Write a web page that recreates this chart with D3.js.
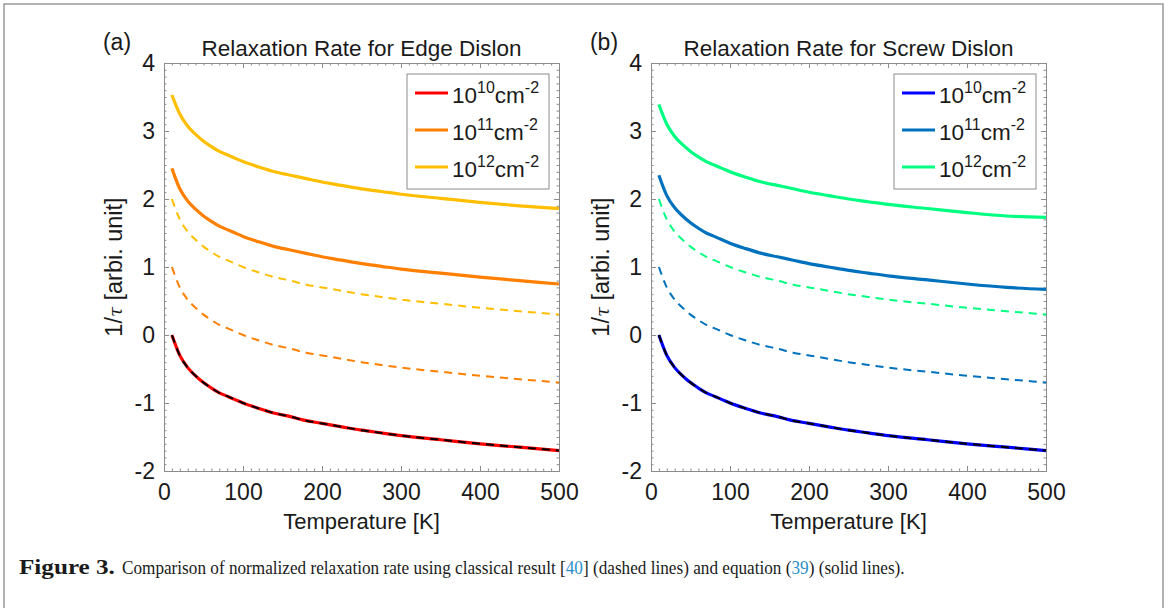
<!DOCTYPE html>
<html>
<head>
<meta charset="utf-8">
<script src="https://cdn.jsdelivr.net/npm/d3@7"></script>
<style>
  body { margin: 0; background: #fff; }
  svg { display: block; font-family: "Liberation Sans", Arial, sans-serif; }
</style>
</head>
<body>
<div id="fig"></div>
<script>
// temperatures (K) at which the curves were read
const temps = [10,20,30,40,50,60,70,80,90,100,120,140,160,180,200,225,250,275,300,350,400,450,500];

// classical result (dashed) - same for both panels
const classic10 = [0,-0.30,-0.48,-0.60,-0.70,-0.78,-0.85,-0.90,-0.95,-1.00,-1.08,-1.15,-1.20,-1.26,-1.30,-1.35,-1.40,-1.44,-1.48,-1.54,-1.60,-1.65,-1.70];
const classic11 = [1.00,0.70,0.52,0.40,0.30,0.22,0.15,0.10,0.05,0.00,-0.08,-0.15,-0.20,-0.26,-0.30,-0.35,-0.40,-0.44,-0.48,-0.54,-0.60,-0.65,-0.70];
const classic12 = [2.00,1.70,1.52,1.40,1.30,1.22,1.15,1.10,1.05,1.00,0.92,0.85,0.80,0.74,0.70,0.65,0.60,0.56,0.52,0.46,0.40,0.35,0.30];

// equation (39) (solid) - edge dislocation
const edge10 = [0,-0.30,-0.48,-0.60,-0.70,-0.78,-0.85,-0.90,-0.95,-1.00,-1.08,-1.15,-1.20,-1.26,-1.30,-1.35,-1.40,-1.44,-1.48,-1.54,-1.60,-1.65,-1.70];
const edge11 = [2.45,2.15,1.97,1.85,1.75,1.67,1.60,1.55,1.50,1.45,1.37,1.30,1.25,1.20,1.15,1.10,1.05,1.01,0.97,0.91,0.85,0.80,0.75];
const edge12 = [3.53,3.25,3.07,2.95,2.85,2.77,2.70,2.65,2.60,2.55,2.47,2.40,2.35,2.30,2.25,2.20,2.15,2.11,2.07,2.01,1.95,1.90,1.86];

// equation (39) (solid) - screw dislocation
const screw10 = [0,-0.30,-0.48,-0.60,-0.70,-0.78,-0.85,-0.90,-0.95,-1.00,-1.08,-1.15,-1.20,-1.26,-1.30,-1.35,-1.40,-1.44,-1.48,-1.54,-1.60,-1.65,-1.70];
const screw11 = [2.35,2.05,1.87,1.75,1.65,1.57,1.50,1.45,1.40,1.35,1.27,1.20,1.15,1.10,1.05,1.00,0.95,0.91,0.87,0.81,0.75,0.70,0.67];
const screw12 = [3.39,3.10,2.92,2.80,2.70,2.62,2.55,2.50,2.45,2.40,2.32,2.25,2.20,2.15,2.10,2.05,2.00,1.96,1.92,1.86,1.80,1.75,1.73];

const densityExp = ["10","11","12"];
const edgeColors = ["#ff0000","#ff7f00","#ffbf00"];
const screwColors = ["#0000ff","#0072bd","#00ff80"];

const xTicks = [0,100,200,300,400,500];
const yTicks = [-2,-1,0,1,2,3,4];

const W = 1168, H = 608;
const svg = d3.select("#fig").append("svg").attr("width", W).attr("height", H);

// outer frame
svg.append("path")
  .attr("d", `M4,${H} L4,4 L1163,4 L1163,${H}`)
  .attr("fill","none").attr("stroke","#9a9a9a").attr("stroke-width",1.5);

const plotTop = 63, plotBottom = 471;
const plain = d => String(d);

function drawPanel(left, right, tag, title, solids, colors) {
  const x = d3.scaleLinear().domain([0,500]).range([left,right]);
  const y = d3.scaleLinear().domain([-2,4]).range([plotBottom,plotTop]);
  const g = svg.append("g");
  const axisCol = "#8c8c8c";

  // minor ticks
  const xMinor = d3.range(0,501,10);
  const yMinor = d3.range(-2,4.001,0.1);
  const styleAx = sel => {
    sel.attr("font-size",null).attr("font-family",null);
    sel.selectAll("path,line").attr("stroke",axisCol);
    sel.selectAll("text").attr("fill","#1a1a1a").style("font-size","23px");
  };
  g.append("g").attr("transform",`translate(0,${plotBottom})`)
    .call(d3.axisBottom(x).tickValues(xMinor).tickSize(-2.5).tickFormat("")).call(styleAx);
  g.append("g").attr("transform",`translate(0,${plotTop})`)
    .call(d3.axisTop(x).tickValues(xMinor).tickSize(-2.5).tickFormat("")).call(styleAx);
  g.append("g").attr("transform",`translate(${left},0)`)
    .call(d3.axisLeft(y).tickValues(yMinor).tickSize(-2.5).tickFormat("")).call(styleAx);
  g.append("g").attr("transform",`translate(${right},0)`)
    .call(d3.axisRight(y).tickValues(yMinor).tickSize(-2.5).tickFormat("")).call(styleAx);

  // major ticks and labels
  g.append("g").attr("transform",`translate(0,${plotBottom})`)
    .call(d3.axisBottom(x).tickValues(xTicks).tickFormat(plain).tickSizeInner(-5).tickSizeOuter(0).tickPadding(13))
    .call(styleAx);
  g.append("g").attr("transform",`translate(0,${plotTop})`)
    .call(d3.axisTop(x).tickValues(xTicks).tickSizeInner(-5).tickSizeOuter(0).tickFormat(""))
    .call(styleAx);
  g.append("g").attr("transform",`translate(${left},0)`)
    .call(d3.axisLeft(y).tickValues(yTicks).tickFormat(plain).tickSizeInner(-5).tickSizeOuter(0).tickPadding(9))
    .call(styleAx);
  g.append("g").attr("transform",`translate(${right},0)`)
    .call(d3.axisRight(y).tickValues(yTicks).tickSizeInner(-5).tickSizeOuter(0).tickFormat(""))
    .call(styleAx);

  const line = d3.line().x((d,i) => x(temps[i])).y(d => y(d)).curve(d3.curveMonotoneX);

  // solid lines (equation 39)
  solids.forEach((s,i) => {
    g.append("path").datum(s).attr("d",line)
      .attr("fill","none").attr("stroke",colors[i]).attr("stroke-width",3.2)
      .attr("stroke-linejoin","round");
  });
  // dashed lines (classical)
  const classics = [classic10, classic11, classic12];
  const dashCols = ["#000000", colors[1], colors[2]];
  classics.forEach((s,i) => {
    g.append("path").datum(s).attr("d",line)
      .attr("fill","none").attr("stroke",dashCols[i]).attr("stroke-width",2)
      .attr("stroke-dasharray","8,6");
  });

  // texts
  const cx = (left + right) / 2;
  g.append("text").attr("x",cx).attr("y",56).attr("text-anchor","middle")
    .style("font-size","22.5px").attr("fill","#1a1a1a").text(title);
  g.append("text").attr("x",left - 47).attr("y",50).attr("text-anchor","middle")
    .style("font-size","23px").attr("fill","#1a1a1a").text(tag);
  g.append("text").attr("x",cx).attr("y",529).attr("text-anchor","middle")
    .style("font-size","22px").attr("fill","#1a1a1a").text("Temperature [K]");
  const yl = g.append("text")
    .attr("transform",`translate(${left - 42},${(plotTop+plotBottom)/2}) rotate(-90)`)
    .attr("text-anchor","middle").style("font-size","23.5px").attr("fill","#1a1a1a");
  yl.append("tspan").text("1/");
  yl.append("tspan").style("font-style","italic").style("font-family","'DejaVu Serif', serif")
    .style("font-size","18px").text("τ");
  yl.append("tspan").text(" [arbi. unit]");

  // legend
  const lx = right - 152, ly = 74, lw = 142, lh = 115;
  const leg = g.append("g");
  leg.append("rect").attr("x",lx).attr("y",ly).attr("width",lw).attr("height",lh)
    .attr("fill","#fff").attr("stroke","#8c8c8c").attr("stroke-width",1);
  densityExp.forEach((e,i) => {
    const yy = ly + 19 + i * 37;
    leg.append("line").attr("x1",lx+8).attr("x2",lx+41).attr("y1",yy).attr("y2",yy)
      .attr("stroke",colors[i]).attr("stroke-width",3.2);
    const t = leg.append("text").attr("x",lx+45).attr("y",yy+10)
      .style("font-size","22.5px").attr("fill","#1a1a1a");
    t.append("tspan").text("10");
    t.append("tspan").attr("dy",-10).style("font-size","16px").text(e);
    t.append("tspan").attr("dy",10).text("cm");
    t.append("tspan").attr("dy",-10).style("font-size","16px").text("-2");
  });
}

drawPanel(164, 559, "(a)", "Relaxation Rate for Edge Dislon", [edge10, edge11, edge12], edgeColors);
drawPanel(651, 1046, "(b)", "Relaxation Rate for Screw Dislon", [screw10, screw11, screw12], screwColors);

// caption: bold label and body, each fitted to the width seen in the figure
function fitText(sel, x0, targetW) {
  const w = sel.node().getComputedTextLength();
  sel.attr("transform",`translate(${x0},0) scale(${targetW/w},1) translate(${-x0},0)`);
}
const capFont = "'Liberation Serif', 'Times New Roman', serif";
const capLabel = svg.append("text").attr("x",19).attr("y",574)
  .style("font-family",capFont).style("font-size","21px").style("font-weight","bold")
  .attr("fill","#1a1a1a").text("Figure 3.");
fitText(capLabel, 19, 96);
const cap = svg.append("text").attr("x",122).attr("y",574)
  .style("font-family",capFont).style("font-size","19px").attr("fill","#1a1a1a");
cap.append("tspan").text("Comparison of normalized relaxation rate using classical result [");
cap.append("tspan").attr("fill","#2a8dc8").text("40");
cap.append("tspan").text("] (dashed lines) and equation (");
cap.append("tspan").attr("fill","#2a8dc8").text("39");
cap.append("tspan").text(") (solid lines).");
fitText(cap, 122, 783);
</script>
</body>
</html>
